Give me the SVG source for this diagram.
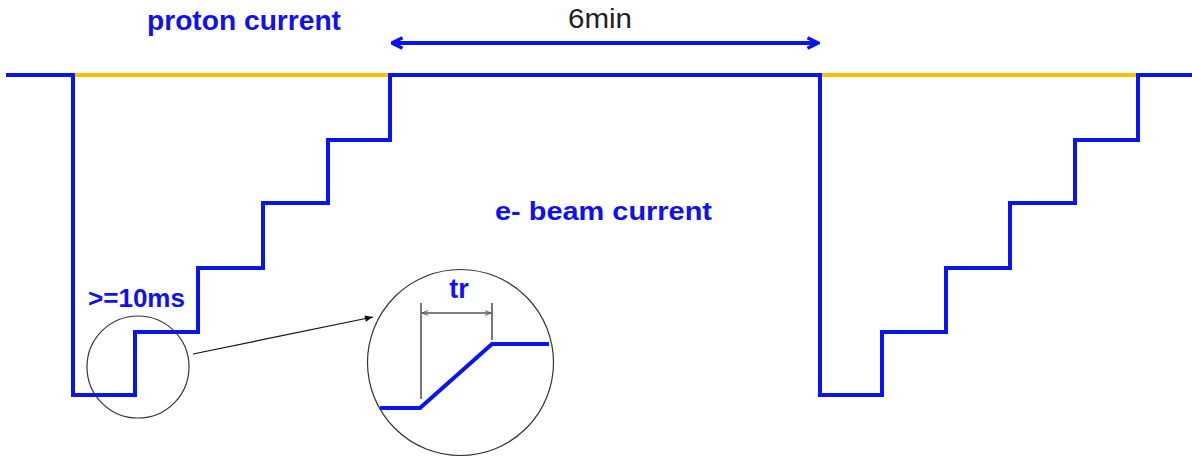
<svg xmlns="http://www.w3.org/2000/svg" width="1192" height="457" viewBox="0 0 1192 457">
<style>
.sig{fill:none;stroke:#0a14f0;stroke-width:4;stroke-linejoin:miter;stroke-linecap:square}
.yel{fill:none;stroke:#ffc000;stroke-width:4}
.thin{fill:none;stroke:#333;stroke-width:1.2}
.dim{fill:none;stroke:#555;stroke-width:1.6}
.lbl{font-family:"Liberation Sans",Arial,sans-serif;font-weight:bold;fill:#1010f0}
.plain{font-family:"Liberation Sans",Arial,sans-serif;fill:#222}
</style>
<defs>
<marker id="bh" viewBox="0 0 10 10" refX="9" refY="5" markerWidth="15" markerHeight="15" orient="auto-start-reverse" markerUnits="userSpaceOnUse">
<path d="M2,1.5 L9,5 L2,8.5" fill="none" stroke="#0a14f0" stroke-width="2.4" stroke-linejoin="miter"/>
</marker>
<marker id="kh" viewBox="0 0 10 10" refX="10" refY="5" markerWidth="12" markerHeight="8" orient="auto" markerUnits="userSpaceOnUse">
<path d="M0,1 L10,5 L0,9 Z" fill="#111"/>
</marker>
<marker id="dh" viewBox="0 0 10 10" refX="10" refY="5" markerWidth="7" markerHeight="6" orient="auto-start-reverse" markerUnits="userSpaceOnUse">
<path d="M0,1 L10,5 L0,9" fill="none" stroke="#555" stroke-width="1.5"/>
</marker>
</defs>
<g id="proton-yellow">
<line class="yel" x1="73" y1="75" x2="390" y2="75"/>
<line class="yel" x1="820" y1="75" x2="1138" y2="75"/>
</g>
<g id="signal">
<path class="sig" d="M8,75 H73 V395 H135 V332 H198 V268 H263 V203 H328 V140 H390 V75 H820 V395 H882 V332 H946 V268 H1010 V203 H1075 V140 H1138 V75 H1190"/>
</g>
<g id="connectors">
<line x1="392" y1="43" x2="818" y2="43" stroke="#0a14f0" stroke-width="4" marker-start="url(#bh)" marker-end="url(#bh)"/>
<line x1="193" y1="354" x2="373" y2="317" stroke="#111" stroke-width="1.2" marker-end="url(#kh)"/>
</g>
<g id="zoom-small">
<circle class="thin" cx="138" cy="367" r="51"/>
</g>
<g id="zoom-big">
<circle class="thin" cx="460.5" cy="362.5" r="93"/>
<line class="dim" x1="421" y1="303" x2="421" y2="399"/>
<line class="dim" x1="492" y1="303" x2="492" y2="340"/>
<line x1="422" y1="313" x2="491" y2="313" stroke="#555" stroke-width="1.6" marker-start="url(#dh)" marker-end="url(#dh)"/>
<path d="M380,408 H420 L492,344 H549" fill="none" stroke="#0a14f0" stroke-width="4"/>
<text class="lbl" x="459" y="298" font-size="27" text-anchor="middle">tr</text>
</g>
<g id="labels">
<text class="lbl" x="147" y="30" font-size="28" textLength="194" lengthAdjust="spacingAndGlyphs">proton current</text>
<text class="plain" x="568" y="28" font-size="27" textLength="64" lengthAdjust="spacingAndGlyphs">6min</text>
<text class="lbl" x="495" y="220" font-size="26" textLength="217" lengthAdjust="spacingAndGlyphs">e-  beam current</text>
<text class="lbl" x="88" y="307" font-size="26" textLength="97" lengthAdjust="spacingAndGlyphs">&gt;=10ms</text>
</g>
</svg>
